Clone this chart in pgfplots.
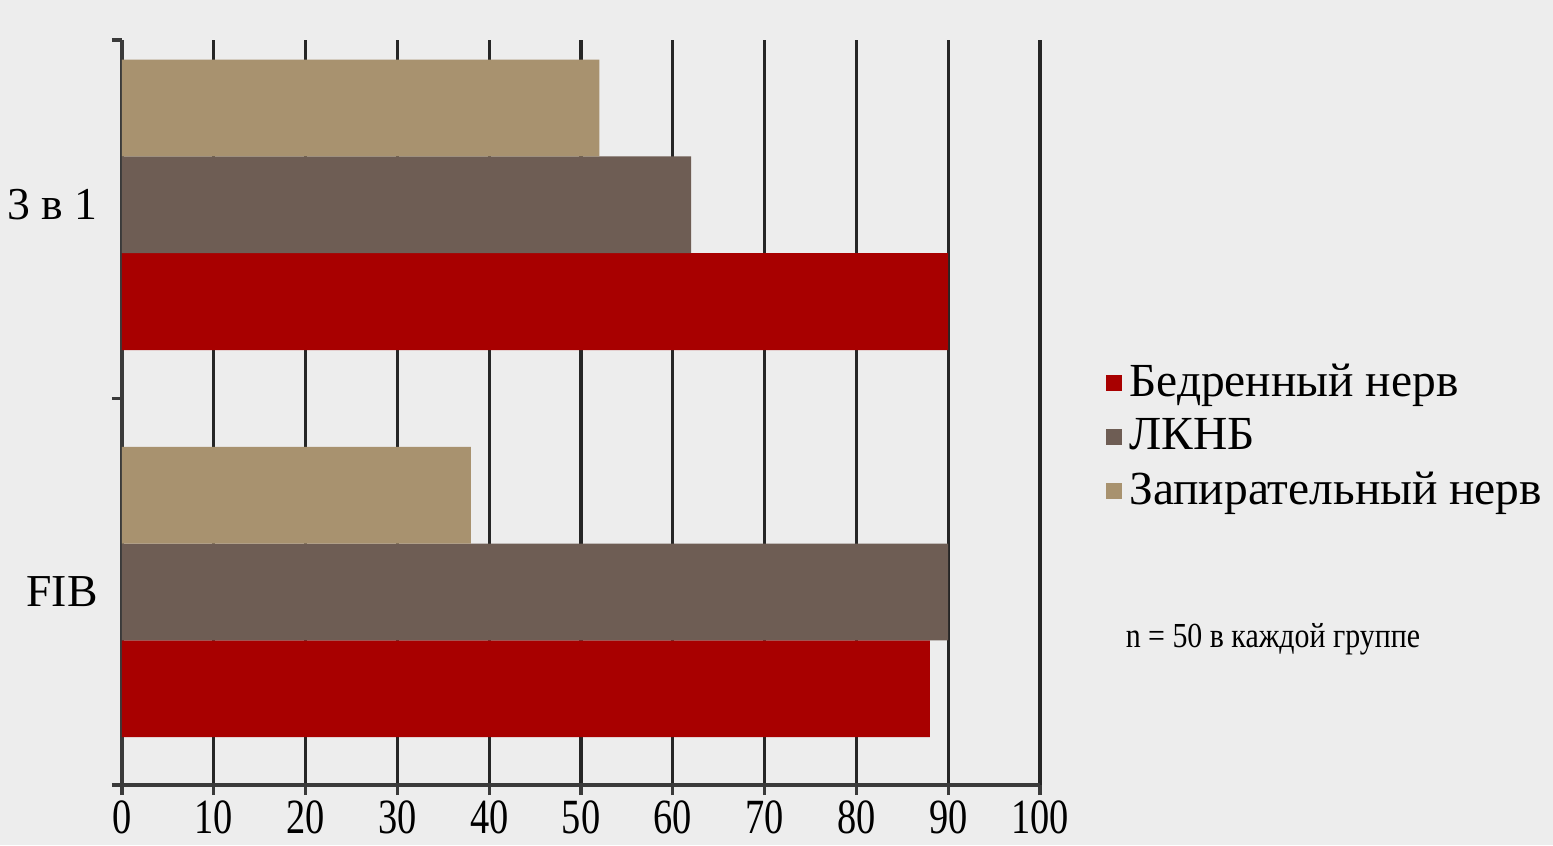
\documentclass[border=0pt]{standalone}
\usepackage{pgfplots}
\pgfplotsset{compat=1.18}
\usepackage{fontspec}
\setmainfont{Liberation Serif}
\definecolor{bgc}{HTML}{EDEDED}
\definecolor{cred}{HTML}{A80000}
\definecolor{cgray}{HTML}{6E5D54}
\definecolor{ctan}{HTML}{A8926F}
\definecolor{axc}{HTML}{3A3A3A}
\begin{document}
\begin{tikzpicture}
\fill[bgc] (-12.2mm,-6mm) rectangle (143.1mm,78.5mm);
\useasboundingbox (-12.2mm,-6mm) rectangle (143.1mm,78.5mm);
\begin{axis}[
  at={(0,0)}, anchor=south west,
  scale only axis,
  width=91.8mm, height=74.5mm,
  xbar, bar width=0.25,
  xmin=0, xmax=100,
  ymin=-0.499, ymax=1.426,
  axis x line=bottom, axis y line=left,
  axis line style={-, draw=axc, line width=0.9pt},
  xtick={0,10,...,100},
  xmajorgrids,
  grid style={draw=black!85, line width=0.9pt},
  tick align=outside,
  major tick length=1mm,
  tick style={draw=axc, line width=0.9pt},
  xticklabel={\scalebox{0.78}[1]{\pgfmathprintnumber[assume math mode=true]{\tick}}},
  xticklabel style={font=\fontsize{14}{14}\selectfont, yshift=-0.2mm, inner sep=1pt},
  ytick={-0.499,0.5,1.426}, yticklabels={},
  extra y ticks={0,1},
  extra y tick labels={FIB,3 в 1},
  extra y tick style={major tick length=0pt, yticklabel style={font=\fontsize{13}{13}\selectfont, xshift=-1.2mm}},
  legend style={at={(1.06,0.585)}, anchor=north west, draw=none, fill=none,
    font=\fontsize{13.5}{15}\selectfont, row sep=0.8pt,
    legend cell align=left},
  legend image code/.code={\fill[#1] (0mm,-0.8mm) rectangle (1.6mm,0.8mm);},
  clip=false,
]
\addplot[fill=cred, draw=none, bar shift=-0.25] coordinates {(88,0) (90,1)};
\addplot[fill=cgray, draw=none, bar shift=0] coordinates {(90,0) (62,1)};
\addplot[fill=ctan, draw=none, bar shift=0.25] coordinates {(38,0) (52,1)};
\legend{Бедренный нерв, ЛКНБ, Запирательный нерв}
\node[anchor=west, font=\fontsize{10}{10}\selectfont] at (rel axis cs:1.08,0.195) {\scalebox{0.85}[1]{n = 50 в каждой группе}};
\end{axis}
\end{tikzpicture}
\end{document}
